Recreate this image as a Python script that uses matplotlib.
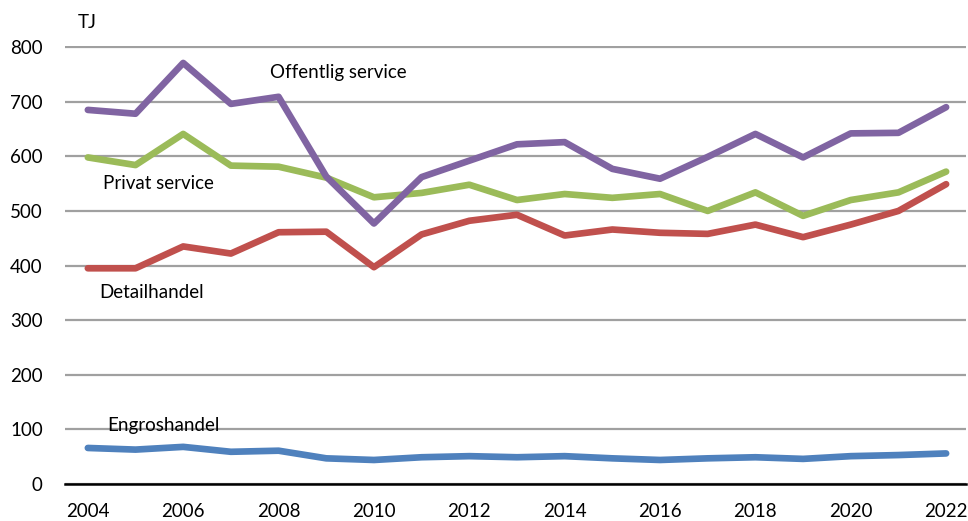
import matplotlib
matplotlib.use('Agg')
import matplotlib.pyplot as plt

plt.rcParams['font.family'] = ['Lato', 'DejaVu Sans']

# data (TJ)
years = list(range(2004, 2023))
offentlig = [685, 678, 771, 696, 709, 563, 477, 562, 592, 622, 626, 577, 559, 599,
             641, 598, 642, 643, 690]
privat = [598, 584, 641, 583, 581, 561, 525, 533, 548, 520, 531, 524, 531, 500,
          534, 491, 520, 534, 572]
detail = [395, 395, 435, 422, 461, 462, 397, 457, 482, 493, 455, 466, 460, 458,
          475, 452, 475, 500, 549]
engros = [66, 63, 68, 59, 61, 47, 44, 49, 51, 49, 51, 47, 44, 47, 49, 46, 51, 53, 56]

fig = plt.figure(figsize=(9.68, 5.21), dpi=100)
ax = fig.add_axes([0.0671, 0.071, 0.931, 0.8407])

lw = 4.8
ax.plot(years, engros, color='#4F81BD', linewidth=lw, solid_capstyle='round', solid_joinstyle='round')
ax.plot(years, detail, color='#C0504D', linewidth=lw, solid_capstyle='round', solid_joinstyle='round')
ax.plot(years, privat, color='#9BBB59', linewidth=lw, solid_capstyle='round', solid_joinstyle='round')
ax.plot(years, offentlig, color='#8064A2', linewidth=lw, solid_capstyle='round', solid_joinstyle='round')

ax.set_xlim(2003.52, 2022.42)
ax.set_ylim(0, 802)
ax.set_yticks(range(0, 801, 100))
ax.set_xticks(range(2004, 2023, 2))

ax.grid(axis='y', color='#A0A0A0', linewidth=1.6)
ax.set_axisbelow(True)
for s in ['top', 'right', 'left']:
    ax.spines[s].set_visible(False)
ax.spines['bottom'].set_color('black')
ax.spines['bottom'].set_linewidth(1.8)
ax.tick_params(length=0, labelsize=13.5, colors='black')
ax.tick_params(axis='x', pad=14)
ax.tick_params(axis='y', pad=16)

# series labels
fs = 13.5
ax.text(2007.82, 754, 'Offentlig service', fontsize=fs, va='center', ha='left')
ax.text(2004.31, 550, 'Privat service', fontsize=fs, va='center', ha='left')
ax.text(2004.23, 351, 'Detailhandel', fontsize=fs, va='center', ha='left')
ax.text(2004.40, 108, 'Engroshandel', fontsize=fs, va='center', ha='left')

fig.text(78 / 968, 1 - 22 / 521, 'TJ', fontsize=fs, va='center', ha='left')

fig.savefig('out.png', dpi=100)
